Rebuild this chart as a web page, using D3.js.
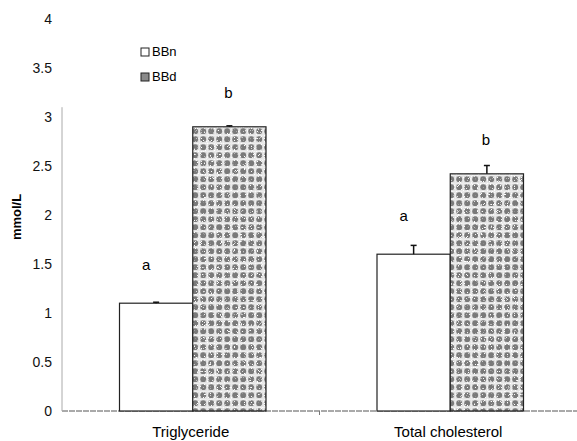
<!DOCTYPE html>
<html lang="en">
<head>
<meta charset="UTF-8">
<script src="https://d3js.org/d3.v7.min.js"></script>
<title>Triglyceride and cholesterol</title>
<style>
  body { margin: 0; background: #fff; }
  text { font-family: "Liberation Sans", Arial, sans-serif; }
</style>
</head>
<body>
<div id="chart"></div>
<script>
// data
var categories = ["Triglyceride", "Total cholesterol"];
var groups = ["BBn", "BBd"];
var bbnValues = [1.1, 1.6];
var bbdValues = [2.9, 2.42];
var bbnErrors = [0.01, 0.09];
var bbdErrors = [0.01, 0.085];
var bbnLetters = ["a", "a"];
var bbdLetters = ["b", "b"];
var yTicks = [0, 0.5, 1, 1.5, 2, 2.5, 3, 3.5, 4];

var width = 577, height = 441;
var svg = d3.select("#chart").append("svg")
    .attr("width", width)
    .attr("height", height);

// dotted grey fill for BBd
var defs = svg.append("defs");
var pat = defs.append("pattern")
    .attr("id", "dots")
    .attr("patternUnits", "userSpaceOnUse")
    .attr("width", 8).attr("height", 8);
pat.append("rect").attr("width", 8).attr("height", 8).attr("fill", "#d8d8d8");
pat.append("rect").attr("x", 0).attr("y", 6.5).attr("width", 8).attr("height", 1.5).attr("fill", "#eeeeee");
pat.append("rect").attr("x", 6.5).attr("y", 0).attr("width", 1.5).attr("height", 8).attr("fill", "#eaeaea");
pat.append("circle").attr("cx", 3.2).attr("cy", 3.2).attr("r", 2.9).attr("fill", "#7a7a7a");

// light speckle noise on top of the dots
var filt = defs.append("filter").attr("id", "speckle")
    .attr("x", 0).attr("y", 0).attr("width", 1).attr("height", 1);
filt.append("feTurbulence")
    .attr("type", "fractalNoise").attr("baseFrequency", 1.3)
    .attr("numOctaves", 1).attr("seed", 7).attr("result", "noise");
filt.append("feColorMatrix")
    .attr("in", "noise").attr("type", "matrix")
    .attr("values", "0 0 0 0 1  0 0 0 0 1  0 0 0 0 1  12 0 0 0 -7.3")
    .attr("result", "white");
filt.append("feComposite")
    .attr("in", "white").attr("in2", "SourceGraphic").attr("operator", "in");

var y = d3.scaleLinear().domain([0, 4]).range([411, 19]);
var x0 = d3.scaleBand().domain(categories).range([64, 579]);
var x1 = d3.scaleBand().domain(groups).range([0, 146.5]);

// axis lines
svg.append("line")
    .attr("x1", 62).attr("x2", 577)
    .attr("y1", y(0)).attr("y2", y(0))
    .attr("stroke", "#555").attr("stroke-width", 1)
    .attr("stroke-dasharray", "6,1");
svg.append("line")
    .attr("x1", 62).attr("x2", 62)
    .attr("y1", y(0)).attr("y2", y(3.1))
    .attr("stroke", "#aaa").attr("stroke-width", 1);
svg.append("line")
    .attr("x1", x0.step() + 62).attr("x2", x0.step() + 62)
    .attr("y1", y(0)).attr("y2", y(0) + 4)
    .attr("stroke", "#777");

// y tick labels
svg.selectAll(".ytick")
    .data(yTicks)
    .join("text")
    .attr("class", "ytick")
    .attr("x", 52)
    .attr("y", function(d){ return y(d) + 5; })
    .attr("text-anchor", "end")
    .attr("font-size", "14px")
    .attr("fill", "#111")
    .text(function(d){ return d; });

svg.append("text")
    .attr("transform", "translate(21," + 217 + ") rotate(-90)")
    .attr("text-anchor", "middle")
    .attr("font-size", "13px")
    .attr("font-weight", "bold")
    .text("mmol/L");

// bars
var rows = categories.map(function(c, i) {
    return [
        { cat: c, g: "BBn", v: bbnValues[i], e: bbnErrors[i], l: bbnLetters[i] },
        { cat: c, g: "BBd", v: bbdValues[i], e: bbdErrors[i], l: bbdLetters[i] }
    ];
}).flat();

var offset = (x0.bandwidth() - x1.range()[1]) / 2;
function bx(d) { return x0(d.cat) + offset + x1(d.g); }

svg.selectAll(".bar")
    .data(rows)
    .join("rect")
    .attr("class", "bar")
    .attr("x", bx)
    .attr("y", function(d){ return y(d.v); })
    .attr("width", x1.bandwidth())
    .attr("height", function(d){ return y(0) - y(d.v); })
    .attr("fill", function(d){ return d.g == "BBn" ? "#fff" : "url(#dots)"; })
    .attr("stroke", "#222")
    .attr("stroke-width", 1.2);

svg.selectAll(".noise")
    .data(rows.filter(function(d){ return d.g == "BBd"; }))
    .join("rect")
    .attr("class", "noise")
    .attr("x", function(d){ return bx(d) + 1; })
    .attr("y", function(d){ return y(d.v) + 1; })
    .attr("width", x1.bandwidth() - 2)
    .attr("height", function(d){ return y(0) - y(d.v) - 2; })
    .attr("fill", "#000")
    .attr("filter", "url(#speckle)");

// error bars
svg.selectAll(".err")
    .data(rows)
    .join("line")
    .attr("class", "err")
    .attr("x1", function(d){ return bx(d) + x1.bandwidth() / 2; })
    .attr("x2", function(d){ return bx(d) + x1.bandwidth() / 2; })
    .attr("y1", function(d){ return y(d.v); })
    .attr("y2", function(d){ return y(d.v + d.e); })
    .attr("stroke", "#111").attr("stroke-width", 1.5);
svg.selectAll(".cap")
    .data(rows)
    .join("line")
    .attr("class", "cap")
    .attr("x1", function(d){ return bx(d) + x1.bandwidth() / 2 - 3; })
    .attr("x2", function(d){ return bx(d) + x1.bandwidth() / 2 + 3; })
    .attr("y1", function(d){ return y(d.v + d.e); })
    .attr("y2", function(d){ return y(d.v + d.e); })
    .attr("stroke", "#111").attr("stroke-width", 1.5);

// significance letters
svg.selectAll(".letter")
    .data(rows)
    .join("text")
    .attr("class", "letter")
    .attr("x", function(d){ return bx(d) + x1.bandwidth() / 2 + (d.g == "BBn" ? -10 : -1); })
    .attr("y", function(d){ return y(d.v) - (d.g == "BBn" ? 33 : 29); })
    .attr("text-anchor", "middle")
    .attr("font-size", "15px")
    .text(function(d){ return d.l; });

// category labels
svg.selectAll(".xlabel")
    .data(categories)
    .join("text")
    .attr("class", "xlabel")
    .attr("x", function(d){ return x0(d) + x0.bandwidth() / 2 - 2; })
    .attr("y", 437)
    .attr("text-anchor", "middle")
    .attr("font-size", "15px")
    .text(function(d){ return d; });

// legend
var legend = svg.selectAll(".legend")
    .data(groups)
    .join("g")
    .attr("class", "legend")
    .attr("transform", function(d, i){ return "translate(141," + (48 + i * 25) + ")"; });
legend.append("rect")
    .attr("width", 8).attr("height", 8)
    .attr("fill", function(d){ return d == "BBn" ? "#fff" : "#8a8a8a"; })
    .attr("stroke", "#222");
legend.append("text")
    .attr("x", 11).attr("y", 8)
    .attr("font-size", "13px")
    .text(function(d){ return d; });
</script>
</body>
</html>
